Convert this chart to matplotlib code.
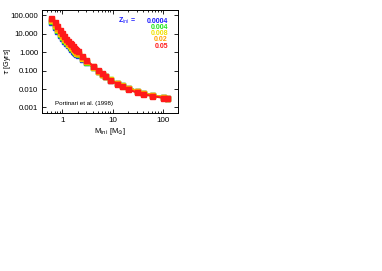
import matplotlib
matplotlib.use("Agg")
import matplotlib.pyplot as plt
from matplotlib.ticker import FixedLocator, FixedFormatter, LogLocator, NullFormatter

plt.rcParams['font.family'] = ['Liberation Sans', 'DejaVu Sans']

masses = [0.6, 0.7, 0.8, 0.9, 1.0, 1.1, 1.2, 1.3, 1.4, 1.5, 1.6, 1.7, 1.8, 1.9, 2.0,
          2.5, 3, 4, 5, 6, 7, 9, 12, 15, 20, 30, 40, 60, 100, 120]

tau_z0004 = [42, 24, 14, 8.8, 5.8, 4.1, 3.0, 2.3, 1.8, 1.45, 1.2, 1.02, 0.88, 0.77, 0.68,
             0.43, 0.29, 0.15, 0.094, 0.064, 0.048, 0.032, 0.021, 0.016, 0.012, 0.0078,
             0.006, 0.0047, 0.0036, 0.0033]
tau_z004 = [48, 27, 16, 10, 6.7, 4.7, 3.5, 2.6, 2.05, 1.65, 1.4, 1.18, 1.0, 0.87, 0.78,
            0.47, 0.31, 0.155, 0.098, 0.067, 0.050, 0.033, 0.021, 0.016, 0.012, 0.0078,
            0.006, 0.0046, 0.0036, 0.0033]
tau_z008 = [55, 31, 18, 11.5, 7.5, 5.3, 3.9, 2.9, 2.3, 1.85, 1.55, 1.3, 1.1, 0.95, 0.85,
            0.5, 0.33, 0.16, 0.10, 0.068, 0.051, 0.033, 0.021, 0.016, 0.012, 0.0078,
            0.006, 0.0046, 0.0036, 0.0033]
tau_z02 = [60, 34, 20, 13, 8.5, 6.0, 4.4, 3.3, 2.6, 2.1, 1.75, 1.45, 1.25, 1.08, 0.95,
           0.55, 0.35, 0.17, 0.10, 0.068, 0.050, 0.031, 0.020, 0.015, 0.011, 0.0075,
           0.0058, 0.0045, 0.0035, 0.0032]
tau_z05 = [75, 42, 25, 16, 10.5, 7.4, 5.4, 4.1, 3.2, 2.6, 2.1, 1.75, 1.5, 1.28, 1.1,
           0.6, 0.38, 0.18, 0.11, 0.072, 0.052, 0.032, 0.019, 0.014, 0.0095, 0.0065,
           0.0052, 0.0042, 0.0033, 0.0031]

series = [tau_z0004, tau_z004, tau_z008, tau_z02, tau_z05]
labels = ["0.0004", "0.004", "0.008", "0.02", "0.05"]
colors = ["#1a1aff", "#19e619", "#f0e000", "#ffa000", "#ff1a1a"]

ytick_vals = [0.001, 0.01, 0.1, 1, 10, 100]
ytick_labels = ["0.001", "0.010", "0.100", "1.000", "10.000", "100.000"]
xtick_vals = [1, 10, 100]
xtick_labels = ["1", "10", "100"]

fig = plt.figure(figsize=(3.82, 2.71), dpi=100)
ax = fig.add_axes([0.1107, 0.583, 0.3561, 0.3812])

for y, c in zip(series, colors):
    ax.plot(masses, y, '-', color=c, lw=1.5, marker='s', ms=3.6, mec=c, mfc=c)

ax.set_xscale('log')
ax.set_yscale('log')
ax.set_xlim(0.4, 200)
ax.set_ylim(0.0005, 200)

ax.yaxis.set_major_locator(FixedLocator(ytick_vals))
ax.yaxis.set_major_formatter(FixedFormatter(ytick_labels))
ax.xaxis.set_major_locator(FixedLocator(xtick_vals))
ax.xaxis.set_major_formatter(FixedFormatter(xtick_labels))
ax.xaxis.set_minor_locator(LogLocator(base=10, subs=range(2, 10)))
ax.xaxis.set_minor_formatter(NullFormatter())
ax.yaxis.set_minor_locator(FixedLocator([]))

ax.tick_params(which='both', direction='in', top=True, right=True, width=0.6)
ax.tick_params(axis='y', labelsize=5.6)
ax.tick_params(axis='x', labelsize=5.8)
ax.tick_params(which='major', length=3, pad=3)
ax.tick_params(which='minor', length=1.5)
for s in ax.spines.values():
    s.set_linewidth(0.7)

ax.set_xlabel(r"M$_{\rm ini}$ [M$_{\odot}$]", fontsize=5.5, labelpad=1.0)
ax.set_ylabel(r"$\tau$ [Gyrs]", fontsize=5.2)
ax.yaxis.set_label_coords(-0.215, 0.5)

# legend text
fx0 = 168 / 382
fy0 = 1 - 21.3 / 271
dy = 6.2 / 271
fig.text(118 / 382, fy0, r"Z$_{\rm ini}$ =", color=colors[0], fontsize=5, fontweight='bold',
         ha='left', va='center')
for i, (lab, c) in enumerate(zip(labels, colors)):
    fig.text(fx0, fy0 - i * dy, lab, color=c, fontsize=5, fontweight='bold',
             ha='right', va='center')

fig.text(55 / 382, 1 - 103.3 / 271, "Portinari et al. (1998)", fontsize=4.5,
         color='black', ha='left', va='center')

fig.savefig("out.png", dpi=100)
